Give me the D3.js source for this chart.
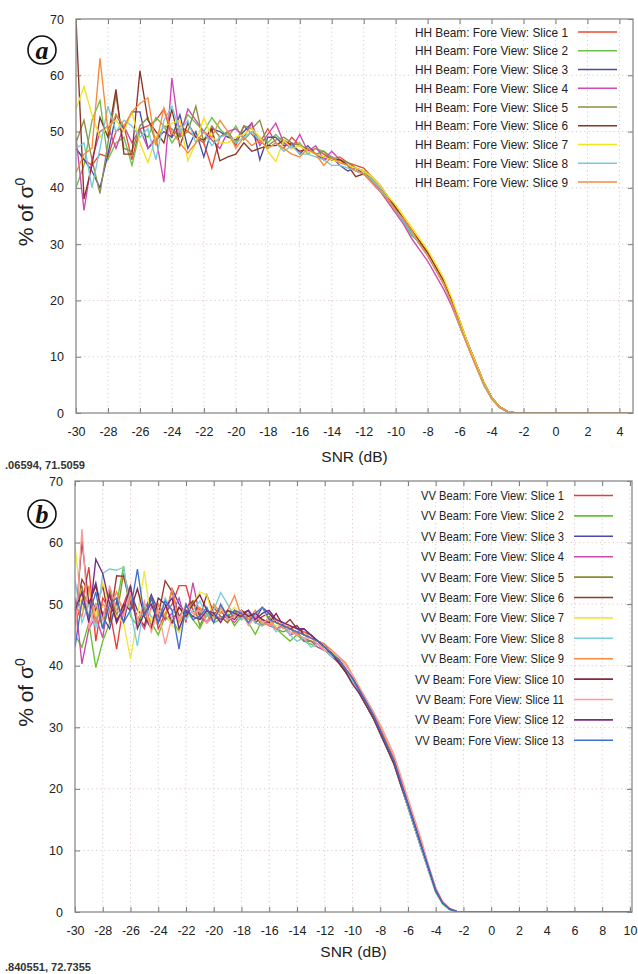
<!DOCTYPE html>
<html><head><meta charset="utf-8">
<script src="https://cdn.jsdelivr.net/npm/d3@7/dist/d3.min.js"></script>
<style>body{margin:0;background:#fff}svg{display:block}</style>
</head><body>
<script>
// ---------- DATA ----------
// x positions (SNR dB): 0.5 dB steps, then a final point at the right edge of each panel
const snrTop = d3.range(-30, -2.25, 0.5).concat([-2, 4.85]);
const snrBot = d3.range(-30, -1.75, 0.5).concat([10.15]);
const xTicksTop = d3.range(-30, 5, 2);
const xTicksBot = d3.range(-30, 11, 2);
const yTicks = [0, 10, 20, 30, 40, 50, 60, 70];

const hhNames = ["HH Beam: Fore View: Slice 1","HH Beam: Fore View: Slice 2","HH Beam: Fore View: Slice 3",
  "HH Beam: Fore View: Slice 4","HH Beam: Fore View: Slice 5","HH Beam: Fore View: Slice 6",
  "HH Beam: Fore View: Slice 7","HH Beam: Fore View: Slice 8","HH Beam: Fore View: Slice 9"];
const vvNames = ["VV Beam: Fore View: Slice 1","VV Beam: Fore View: Slice 2","VV Beam: Fore View: Slice 3",
  "VV Beam: Fore View: Slice 4","VV Beam: Fore View: Slice 5","VV Beam: Fore View: Slice 6",
  "VV Beam: Fore View: Slice 7","VV Beam: Fore View: Slice 8","VV Beam: Fore View: Slice 9",
  "VV Beam: Fore View: Slice 10","VV Beam: Fore View: Slice 11","VV Beam: Fore View: Slice 12",
  "VV Beam: Fore View: Slice 13"];
const hhColors = ["#ec4a30","#6cc04a","#4b4ba6","#d048b0","#8f8c48","#8a3424","#f4e21c","#76c9dc","#f88a3c"];
const vvColors = ["#ee3a34","#66c22c","#4a4aae","#cc4aaa","#8a8a34","#98382c","#f2e83a","#7ccbdc","#fb8a40",
  "#86283c","#fb9a98","#7a2a80","#3f6fcf"];

// HH series (values in % of sigma0), -30 .. -2.5 dB then zeros
const hh1 = [47,45,44,46,45.5,50,51,45,50.5,51,52,54,49,51,50,49,48,43.5,49,50,47.5,51,49.5,48,50.5,48,47,49,47.5,46.5,47,46,45,45.5,44.5,44,43.5,
  42,40.5,38.5,36.5,34.5,32.5,30.5,28.5,26,23.5,20,16,12.5,9,5.5,2.8,1.1,0.3,0,0,0];
const hh2 = [40,44,52,55.5,45,48,49,44,50,49,52.5,51,48,50,53,51.5,50,52.5,50.5,49,51,48.5,50,49,48,49.5,48,47.5,48,46,47,46.5,45.5,45,44.5,43.5,43,
  41.5,40,38,36,34,31.5,30.5,28,25.5,23,19.5,15.5,12,8.5,5,2.5,1,0.2,0,0,0];
const hh3 = [47,45,43,40,46,53,50.5,53.5,53.5,47,48.5,50,49,53,47,50,45.5,50.5,50,49,48.5,50,51.5,45,49,49,47.5,48,46,47.5,46,45,45.5,44,43,43.5,42.5,
  41,39.5,38,36,34,32,30,28,25.5,23,20,16,12.5,9,5.5,2.8,1.1,0.3,0,0,0];
const hh4 = [49,36,45,50,51,47,51,48,50.5,47,49,41,59.5,49,54,52,50,48.5,47,50,50.5,49,51.5,47.5,49.5,51.5,48,47,49.5,46.5,47.5,45,46.5,45,44,43,42.5,
  41,39.5,37.5,35.5,33.5,31,29,27,24.5,22,19,15.5,12,8.5,5.5,2.6,1,0.2,0,0,0];
const hh5 = [48,52,45,39,48,56.5,47,46.5,51,52.5,48,51,50.5,49,50,54.5,48,51,49,50,48,51,50.5,52,47.5,48.5,49,48,47.5,47,46,46.5,45,45,44.5,43.5,43,
  42,40.5,38.5,36.5,34.5,32,30,28,25.5,23,20,16,12.5,9,5.5,2.8,1.1,0.3,0,0,0];
const hh6 = [70,38,44,52.5,49,57.5,46,46,60.8,52,50,48,54,47.5,51.5,49,48.5,50.5,44.8,45.5,46,48,46.5,47,47.5,47.5,48.5,47.5,46.5,47,46,45.5,45,45,44,42,42.5,
  41.5,40,38.5,36.5,34.5,32.5,30.5,28.5,26,23.5,20,16.5,12.5,9,5.5,2.8,1.1,0.3,0,0,0];
const hh7 = [54,58,53,49,51,52,50,53.5,48,44.5,49,51,51.5,52,44.8,48,52.4,49,48,48,49,49.5,50.5,49,46.5,44.7,48.5,47,47.5,46.5,46,45.5,45,44.5,44,43.5,43,
  42,40.5,38.5,37,35,33,31,29,26.5,24,20.5,16.5,12.5,9,5.5,2.8,1.1,0.3,0,0,0];
const hh8 = [47,48,40,47,54.5,50,52,51,49,50.5,45,52,54.5,50,52,48,50,47.5,49,49.5,48,49,50,48.5,47,48,46.5,47.5,46,46,45.5,45,44,44,43.5,43,42.5,
  41.5,40,38,36,34,32,30,28,25.5,23,19.5,15.5,12,8.5,5.2,2.6,1,0.2,0,0,0];
const hh9 = [42.7,46,47,63,50,53,51,53.5,55,56,47.5,54.2,50,48,46.2,48,50,49,52,50,47,49,47.5,48.5,47,48,47,46,45.5,47,46,44,45.5,44.5,44,43,42.5,
  41,39.5,38,36,34.5,32.5,30,28,25.5,23,19.5,15.5,12,8.5,5.2,2.6,1,0.2,0,0,0];

// VV series, -30 .. -2 dB then zero at right edge
const vv1 = [47,50,56,44,51,49,42.7,50,53,47,49,51.5,46,48.5,50,53,53,49,47.5,48,49.5,48,47,48.5,49,47.5,48,46.5,47.5,46,46.5,45,45.5,44,44,43.5,43,
  42.5,41,39.5,38,36,34,32,29.5,27,24.5,21,17.5,14,10.5,7,3.6,1.5,0.5,0.1,0,0];
const vv2 = [45,43,47,39.7,44,47,50,56.2,48,46.5,49,47,45,48,47.5,45.5,49,47.5,46,48.5,47,47.5,48.5,46.5,48,47,45.1,47.5,47,46,45,44,45,44,43.5,43,42.5,
  41.5,40.5,39,37.5,35.5,33.5,31.5,29,26.5,24,20.5,17,13.5,10,6.5,3.2,1.3,0.4,0.1,0,0];
const vv3 = [48,52,50,53.5,48,46,50.5,47,52,49,48,51.5,49,47.5,52.5,50,48.5,50,49,47,48,47.5,49,48,49,48,47.5,49.5,48.5,47.5,47,46,45.5,46,45,44,43.5,
  42,41,39.5,38,36,34,32,29.5,27,24.5,21,17.5,14,10.5,7,3.5,1.5,0.5,0.1,0,0];
const vv4 = [51,40.3,46,48,44.5,52,47,49,50.5,48,46,49.5,50,47.5,48.5,51,47,53.5,48,47,48.5,47.5,48,47,48.5,47,48,47.5,46.5,46,46.5,45,45.5,44,44,43,42.5,
  41.5,40.5,39,37.5,35.5,33.5,31.5,29,26.5,24,20.5,17,13.5,10,6.8,3.4,1.4,0.5,0.1,0,0];
const vv5 = [49,53,47.5,50,46,52.5,48,55,51,47,49.5,46.5,50,48,47,49.5,48,50.5,46.5,49,47.5,48,47,49,47.5,48.5,47,46.5,48,46,45.5,46,45,44.5,44,43.5,42.5,
  42,41,39,37.5,35.5,33.5,31.5,29,26.5,24,20.5,17,13.5,10,6.8,3.3,1.4,0.4,0.1,0,0];
const vv6 = [48,54,52,49,53,47,54.6,54.5,50,48,46.5,51,48,53.8,52,48,49.5,50.5,48,51.5,48.5,49,47.5,48,48.5,49,47,48,48.5,47,46.5,47.5,46,45.5,45,44,43,
  42,40.5,39,37.5,35.5,33.5,31.5,29.5,27,24.5,21,17.5,14,10.5,7,3.5,1.5,0.5,0.1,0,0];
const vv7 = [59.5,49,52,48,53.5,50,48,47,41.1,48,55.4,47,49,48.5,46.5,45.5,48,50,52,51.5,47.5,49,48.5,49.5,48,47,48.5,49.5,47,46.5,47,46,45.5,45,44.5,43.5,43,
  42.5,41,39.5,38,36,34,32,29.5,27,24.5,21,17.5,14,10.5,7,3.5,1.5,0.5,0.1,0,0];
const vv8 = [54,47,50,46,55,55.7,55.5,56,49,43.2,50,48,47,51,49,48,47.5,49,50.5,48,49,51.9,50,48,47.5,48.5,47,46.5,47,45.5,46.5,45,44,44.5,43,43.5,42.5,
  41.5,41,39.5,37.5,35.5,33.5,31.5,29,26.5,24,20.5,17,13.5,10,6.5,3.2,1.3,0.4,0.1,0,0];
const vv9 = [50,48,53,47,50,49,52,48.5,51,47.5,49,46,50,48,52.5,47,49,48,49.5,47,50,48.5,49,51.4,48,47.5,49,47,46.5,47.5,46,46.5,45,45.5,44.5,44,43.5,
  42.5,41.5,40.5,38.5,36.5,34.5,32.5,30,27.5,25,21.5,18,14.5,11,7.3,3.8,1.6,0.5,0.1,0,0];
const vv10 = [46,60.3,50,53,48,51.5,47,50,49,52.5,48,46,51,50,47,49.5,48,50,51.5,49,48,49.5,48,47.5,49,48,48.5,47.5,47,48.5,46.5,46,46.5,45,44.5,44,43,
  42,40.5,39,37,35.5,33.5,31.5,29,26.5,24,20.5,17.5,14,10.5,7,3.5,1.5,0.5,0.1,0,0];
const vv11 = [44,62.2,46,50,47.5,53,49,48,52,47,50.5,45.5,49,43.5,48,47.5,50,48.5,49,47,48,49.5,47.5,48,49,46.5,48,47,47.5,46,47,45.5,45,44.5,44.5,43.5,42.5,
  42.5,41.5,40,38.5,36.5,34.5,32.5,30.5,28,25.5,22,18.5,15,11.5,7.5,4,1.7,0.6,0.1,0,0];
const vv12 = [49,52,47,57.3,55,50,47.5,49,53,46,48.5,50,47,49.5,51,46,49,48,47.5,49,48.5,47,49,48.5,48,49,47.5,48.5,49,47.5,47,46.5,46,46,45,44,43,
  42,41,39.5,38,36,34,32,29.5,27,24.5,21,17.5,14,10.5,7,3.5,1.5,0.5,0.1,0,0];
const vv13 = [43,50.5,48,52,46,50,51,47,49,55.7,48,51,47,50.5,49,42.7,50,47.5,48,49.5,47,50,48,49,48.5,47,48.5,49.5,47.5,47,46.5,46,45.5,45,44.5,44,43,
  42,41,39.5,38,36,34,32,29.5,27,24.5,21,17.5,14,10.5,7.2,3.6,1.5,0.5,0.1,0,0];

const hhSeries = [hh1,hh2,hh3,hh4,hh5,hh6,hh7,hh8,hh9];
const vvSeries = [vv1,vv2,vv3,vv4,vv5,vv6,vv7,vv8,vv9,vv10,vv11,vv12,vv13];

// ---------- DRAW ----------
const W = 638, H = 974;
const svg = d3.select("body").append("svg").attr("width", W).attr("height", H)
  .style("font-family", "'Liberation Sans', Arial, sans-serif");
svg.append("rect").attr("width", W).attr("height", H).attr("fill", "#fff");

function panel(cfg) {
  const x = d3.scaleLinear().domain(cfg.xDomain).range([cfg.left, cfg.right]);
  const y = d3.scaleLinear().domain([0, 70]).range([cfg.bottom, cfg.top]);
  const g = svg.append("g");
  const clipId = "clip" + cfg.id;
  svg.append("clipPath").attr("id", clipId).append("rect")
    .attr("x", cfg.left).attr("y", cfg.top - 2).attr("width", cfg.right - cfg.left).attr("height", cfg.bottom - cfg.top + 2);

  // grid
  const gridC = "#d7c4c4";
  g.selectAll(".gx").data(cfg.xTicks.filter(t => t > cfg.xDomain[0])).join("line")
    .attr("x1", d => x(d)).attr("x2", d => x(d)).attr("y1", cfg.top).attr("y2", cfg.bottom)
    .attr("stroke", gridC).attr("stroke-width", 0.9).attr("stroke-dasharray", "1.2,3");
  g.selectAll(".gy").data(yTicks.filter(t => t > 0 && t < 70)).join("line")
    .attr("x1", cfg.left).attr("x2", cfg.right).attr("y1", d => y(d)).attr("y2", d => y(d))
    .attr("stroke", gridC).attr("stroke-width", 0.9).attr("stroke-dasharray", "1.2,3");

  // series
  const line = d3.line().x((d, i) => x(cfg.snr[i])).y(d => y(d));
  const lg = g.append("g").attr("clip-path", `url(#${clipId})`);
  cfg.series.forEach((s, k) => {
    lg.append("path").attr("d", line(s)).attr("fill", "none")
      .attr("stroke", cfg.colors[k]).attr("stroke-width", 1.35).attr("stroke-linejoin", "miter");
  });

  // border + ticks via axes
  const tl = 5;
  const axB = g.append("g").attr("transform", `translate(0,${cfg.bottom})`)
    .call(d3.axisBottom(x).tickValues(cfg.xTicks).tickSize(-tl).tickFormat(d => d).tickPadding(14));
  const axT = g.append("g").attr("transform", `translate(0,${cfg.top})`)
    .call(d3.axisTop(x).tickValues(cfg.xTicks).tickSize(-tl).tickFormat(""));
  const axL = g.append("g").attr("transform", `translate(${cfg.left},0)`)
    .call(d3.axisLeft(y).tickValues(yTicks).tickSize(-tl).tickPadding(12).tickFormat(d => d));
  const axR = g.append("g").attr("transform", `translate(${cfg.right},0)`)
    .call(d3.axisRight(y).tickValues(yTicks).tickSize(-tl).tickFormat(""));
  [axB, axT, axL, axR].forEach(a => {
    a.select(".domain").remove();
    a.selectAll(".tick line").attr("stroke", "#777").attr("stroke-width", 1);
    a.selectAll("text").attr("fill", "#222").style("font-size", "12.5px")
      .style("font-family", "'Liberation Sans', Arial, sans-serif");
  });
  g.append("rect").attr("x", cfg.left).attr("y", cfg.top).attr("width", cfg.right - cfg.left)
    .attr("height", cfg.bottom - cfg.top).attr("fill", "none").attr("stroke", "#8a8a8a").attr("stroke-width", 1.3);

  // legend (text condensed horizontally like the original)
  const leg = g.append("g");
  cfg.names.forEach((n, k) => {
    const yy = cfg.legY0 + k * cfg.legDy;
    const t = leg.append("text").attr("x", cfg.legTextX).attr("y", yy).attr("dy", "0.36em")
      .attr("text-anchor", "end").attr("fill", "#222").style("font-size", "12.6px").text(n);
    const w = t.node().getComputedTextLength();
    t.attr("textLength", w * cfg.legSquash).attr("lengthAdjust", "spacingAndGlyphs");
    leg.append("line").attr("x1", cfg.legTextX + 10).attr("x2", cfg.legTextX + 49)
      .attr("y1", yy).attr("y2", yy).attr("stroke", cfg.colors[k]).attr("stroke-width", 1.6);
  });

  // axis titles
  const cx = (cfg.left + cfg.right) / 2;
  g.append("text").attr("x", cx).attr("y", cfg.xLabelY).attr("text-anchor", "middle")
    .attr("fill", "#222").style("font-size", "15.5px").text("SNR (dB)");
  const cy = (cfg.top + cfg.bottom) / 2 - 4;
  const yl = g.append("text").attr("transform", `translate(33,${cy}) rotate(-90)`).attr("text-anchor", "middle")
    .attr("fill", "#222").style("font-size", "21px");
  yl.append("tspan").text("% of σ");
  yl.append("tspan").attr("dy", "-0.6em").style("font-size", "14px").text("0");

  // panel tag
  g.append("circle").attr("cx", 42).attr("cy", cfg.tagY).attr("r", 14).attr("fill", "#fff")
    .attr("stroke", "#111").attr("stroke-width", 1.6);
  g.append("text").attr("x", 42).attr("y", cfg.tagY).attr("dy", "0.33em").attr("text-anchor", "middle")
    .style("font-family", "'Liberation Serif', 'DejaVu Serif', serif").style("font-style", "italic")
    .style("font-weight", "bold").style("font-size", "26px").attr("fill", "#111").text(cfg.tag);

  // mouse coordinate readout
  g.append("text").attr("x", 5).attr("y", cfg.coordY).attr("fill", "#333")
    .attr("textLength", cfg.coordW).attr("lengthAdjust", "spacingAndGlyphs")
    .style("font-size", "10px").style("font-weight", "bold").text(cfg.coord);
}

panel({id: "a", xDomain: [-30, 4.85], left: 76, right: 633, top: 19, bottom: 413,
  snr: snrTop, series: hhSeries, colors: hhColors, names: hhNames, xTicks: xTicksTop,
  legTextX: 568, legY0: 32, legDy: 18.75, legSquash: 0.94, xLabelY: 462, tag: "a", tagY: 50,
  coord: ".06594, 71.5059", coordY: 469, coordW: 80});
panel({id: "b", xDomain: [-30, 10.15], left: 75, right: 632, top: 481, bottom: 912,
  snr: snrBot, series: vvSeries, colors: vvColors, names: vvNames, xTicks: xTicksBot,
  legTextX: 564, legY0: 495.5, legDy: 20.4, legSquash: 0.885, xLabelY: 957, tag: "b", tagY: 514,
  coord: ".840551, 72.7355", coordY: 971, coordW: 86});
</script>
</body></html>
